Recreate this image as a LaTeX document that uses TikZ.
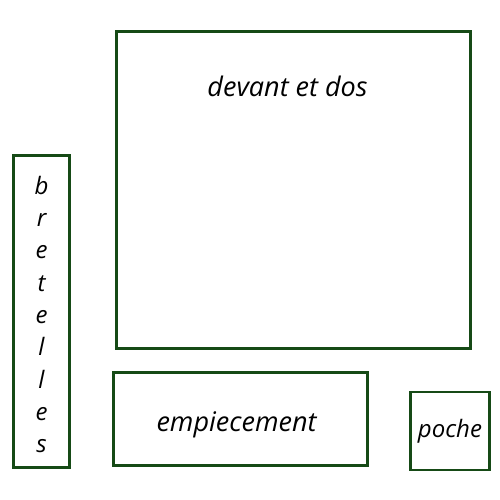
\documentclass[tikz,border=0pt]{standalone}
\usepackage{fontspec}
\setmainfont{Open Sans}
\usepackage{tikz}
\usetikzlibrary{positioning}
\definecolor{piecegreen}{RGB}{22,74,22}

\begin{document}
\begin{tikzpicture}[x=1pt, y=-1pt,
                    piecenode/.style={rectangle, draw=piecegreen, line width=2.6pt, inner sep=0pt},
                    labelnode/.style={font=\fontsize{#1}{32.3}\selectfont\itshape, inner sep=0pt, align=center},
                    labelnode/.default=24,
                ]
                    \useasboundingbox (0,0) rectangle (500,500);
                    %Pieces
                    \node[piecenode, minimum width=354pt, minimum height=317pt](devant) at (293.5,190) {};
                    \node[piecenode, minimum width=56pt, minimum height=312pt](bretelles) at (41.5,311.5) {};
                    \node[piecenode, minimum width=254pt, minimum height=93pt](empiecement) at (240.5,419) {};
                    \node[piecenode, minimum width=79pt, minimum height=78pt](poche) at (450,431) {};

                    %Labels
                    \node[labelnode=27, xshift=-6pt](devanttext)[below=46pt of devant.north] {devant et dos};
                    \node[labelnode](bretellestext) at ([yshift=-3pt]bretelles.center) {b\\r\\e\\t\\e\\l\\l\\e\\s};
                    \node[labelnode=27](empiecementtext) at ([xshift=-4pt, yshift=-6pt]empiecement.center) {empiecement};
                    \node[labelnode](pochetext) at (poche.center) {poche};
                \end{tikzpicture}
\end{document}
